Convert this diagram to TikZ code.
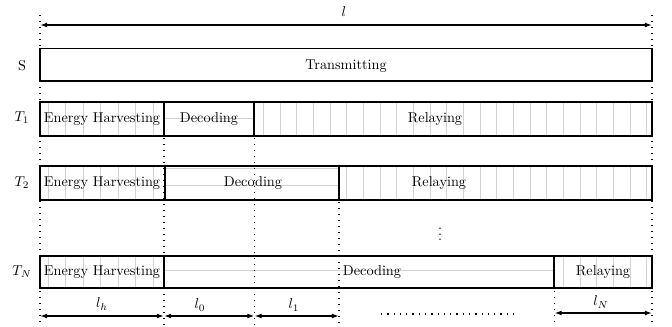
\documentclass[tikz,border=0pt]{standalone}
\usetikzlibrary{arrows.meta}
\begin{document}
\begin{tikzpicture}[x=0.7pt,y=-0.7pt,
  sbox/.style={line width=0.9pt},
  tbox/.style={line width=1.3pt},
  hatch/.style={black!18, line width=0.5pt},
  vdotted/.style={line width=0.85pt, dash pattern=on 0.85pt off 3.35pt},
  hdotted/.style={line width=0.85pt, dash pattern=on 0.85pt off 3.55pt},
  dimarrow/.style={line width=1.1pt, {Latex[length=5pt,width=3.5pt]}-{Latex[length=5pt,width=3.5pt]}},
  txt/.style={inner sep=0pt, font=\normalsize}]
\useasboundingbox (0,0) rectangle (672,327);

% ---------- hatching ----------
\foreach \ya/\yb in {102.3/135.7, 165.7/200, 255.7/288.3}
  \foreach \k in {0,...,6}
    \draw[hatch] ({48.3+17.5*\k},\ya) -- ({48.3+17.5*\k},\yb);
\foreach \k in {0,...,23}
  \draw[hatch] ({263.3+16.667*\k},102.3) -- ({263.3+16.667*\k},135.7);
\foreach \k in {5,...,23}
  \draw[hatch] ({263.3+16.667*\k},165.7) -- ({263.3+16.667*\k},200);
\foreach \k in {18,...,23}
  \draw[hatch] ({263.3+16.667*\k},255.7) -- ({263.3+16.667*\k},288.3);
\draw[hatch] (164,118.3) -- (254.3,118.3);
\draw[hatch] (164.7,168.3) -- (338.7,168.3);
\draw[hatch] (164.7,185) -- (338.7,185);
\draw[hatch] (164,270.5) -- (554.3,270.5);

% ---------- boxes ----------
\draw[sbox] (40,48.3) rectangle (652,81);
\draw[tbox] (40,102.3) rectangle (164,135.7);
\draw[tbox] (164,102.3) rectangle (254.3,135.7);
\draw[tbox] (254.3,102.3) rectangle (652,135.7);
\draw[tbox] (40,165.7) rectangle (164.7,200);
\draw[tbox] (164.7,165.7) rectangle (338.7,200);
\draw[tbox] (338.7,165.7) rectangle (652,200);
\draw[tbox] (40,255.7) rectangle (164,288.3);
\draw[tbox] (164,255.7) rectangle (554.3,288.3);
\draw[tbox] (554.3,255.7) rectangle (652,288.3);

% ---------- dotted guides ----------
\coordinate (g0a) at (40,15);    \coordinate (g0b) at (40,327);
\coordinate (g5a) at (652,15);   \coordinate (g5b) at (652,327);
\coordinate (g1a) at (164,138);  \coordinate (g1b) at (164,327);
\coordinate (g2a) at (254.5,138);\coordinate (g2b) at (254.5,327);
\coordinate (g3a) at (339,202);  \coordinate (g3b) at (339,327);
\coordinate (g4a) at (554.5,291);\coordinate (g4b) at (554.5,327);
\foreach \g in {0,...,5} \draw[vdotted] (g\g a) -- (g\g b);

% ---------- texts ----------
\node[txt] (ts) at (346,66) {Transmitting};
\node[txt] (t1eh) at (102,119) {Energy Harvesting};
\node[txt] (t1de) at (209,119) {Decoding};
\node[txt] (t1re) at (435,119) {Relaying};
\node[txt] (t2eh) at (102,183) {Energy Harvesting};
\node[txt] (t2de) at (253,183) {Decoding};
\node[txt] (t2re) at (439,183) {Relaying};
\node[txt] (tneh) at (102,272) {Energy Harvesting};
\node[txt] (tnde) at (372,272) {Decoding};
\node[txt] (tnre) at (603,272) {Relaying};

\node[txt] (rs) at (22,66) {S};
\node[txt] (r1) at (22,118) {$T_1$};
\node[txt] (r2) at (22,183) {$T_2$};
\node[txt] (rn) at (22,272) {$T_N$};

\node[txt] (vd) at (440,230) {$\vdots$};

% ---------- dimension arrows ----------
\coordinate (al) at (40,25);  \coordinate (ar) at (652,25);
\draw[dimarrow] (al) -- (ar);
\node[txt] (ll) at (344,12) {$l$};

\coordinate (b0) at (40,316);  \coordinate (b1) at (164,316);
\coordinate (b2) at (254.5,316); \coordinate (b3) at (339,316);
\coordinate (b4) at (554.5,313); \coordinate (b5) at (652,313);
\draw[dimarrow] (b0) -- (b1);
\draw[dimarrow] (b1) -- (b2);
\draw[dimarrow] (b2) -- (b3);
\draw[dimarrow] (b4) -- (b5);
\node[txt] (lh) at (102,304) {$l_h$};
\node[txt] (l0) at (200,305) {$l_0$};
\node[txt] (l1) at (294,305) {$l_1$};
\node[txt] (lN) at (601,302) {$l_N$};
\coordinate (hd0) at (381,314); \coordinate (hd1) at (516,314);
\draw[hdotted] (hd0) -- (hd1);
\end{tikzpicture}
\end{document}
